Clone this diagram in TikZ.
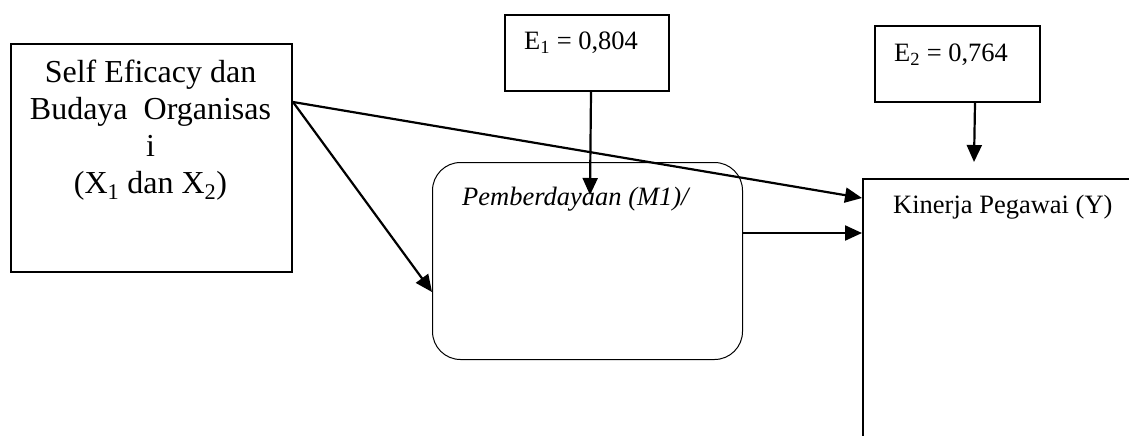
\documentclass[tikz,border=0pt]{standalone}
\usepackage{fontspec}
\setmainfont{Liberation Serif}
\usetikzlibrary{arrows.meta}
\begin{document}
\begin{tikzpicture}[x=1pt,y=-1pt,
  box/.style={draw, line width=2pt, rectangle, inner sep=0pt, anchor=north west},
  softbox/.style={draw, line width=1pt, rectangle, rounded corners=28pt, inner sep=0pt, anchor=north west},
  lbl/.style={inner sep=0pt, anchor=base west, font=\fontsize{26.5}{30}\selectfont},
  link/.style={line width=2.2pt, -{Triangle[length=17pt,width=15pt]}}]
\useasboundingbox (0,0) rectangle (1129,436);
\clip (0,0) rectangle (1129,436);

% independent variables
\node[box, minimum width=281pt, minimum height=228pt] (src) at (10,43) {};
\node[inner sep=0pt, anchor=base, align=center,
      font=\fontsize{32}{37}\selectfont] (srctext) at (150.5,193)
  {Self Eficacy dan\\Budaya~ Organisas\\i\\(X\textsubscript{1} dan X\textsubscript{2})};

% error terms
\node[box, minimum width=164pt, minimum height=76pt] (e1) at (504,14) {};
\node[lbl] (e1text) at (524,50) {E\textsubscript{1} = 0,804};
\node[box, minimum width=165pt, minimum height=76pt] (e2) at (874,25) {};
\node[lbl] (e2text) at (894,62) {E\textsubscript{2} = 0,764};

% mediator
\node[softbox, minimum width=310pt, minimum height=197pt] (m1) at (432,162) {};
\node[lbl, font=\fontsize{26.5}{30}\selectfont\itshape] (m1text) at (462,205) {Pemberdayaan (M1)/};

% dependent variable
\node[box, minimum width=320pt, minimum height=320pt] (ybox) at (862,178) {};
\node[lbl] (ytext) at (893,213) {Kinerja Pegawai (Y)};

\coordinate (e1tip) at (590,195);
\coordinate (e2tip) at (974,162);

% paths
\draw[link] ([yshift=-59pt]src.north east) -- ([yshift=-20pt]ybox.north west);
\draw[link] ([yshift=-59pt]src.north east) -- ([yshift=-130pt]m1.north west);
\draw[link] ([yshift=-71pt]m1.north east) -- ([yshift=-55pt]ybox.north west);
\draw[link] ([xshift=4pt]e1.south) -- (e1tip);
\draw[link] ([xshift=17.5pt]e2.south) -- (e2tip);
\end{tikzpicture}
\end{document}
